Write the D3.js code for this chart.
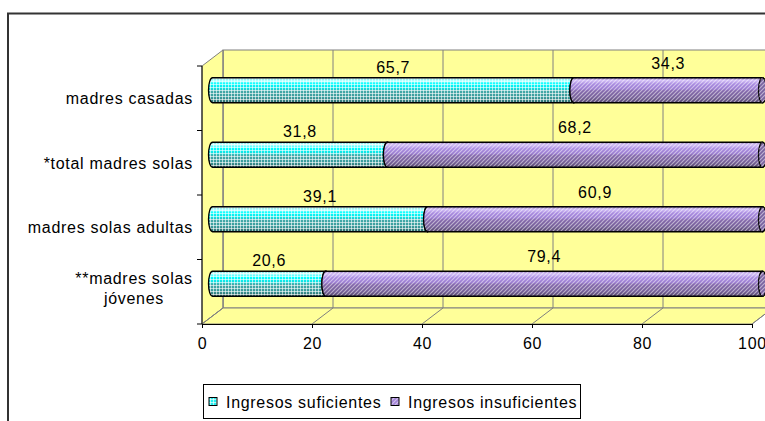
<!DOCTYPE html>
<html><head><meta charset="utf-8">
<script src="https://cdn.jsdelivr.net/npm/d3@7"></script>
<style>
html,body{margin:0;padding:0;background:#fff;}
svg text{font-family:"Liberation Sans",Arial,sans-serif;font-size:16px;letter-spacing:0.7px;fill:#000;}
</style></head>
<body>
<svg id="chart" width="765" height="421"></svg>
<script>
const categories = ["madres casadas", "*total madres solas", "madres solas adultas", "**madres solas jóvenes"];
const categoryLines = [["madres casadas"], ["*total madres solas"], ["madres solas adultas"], ["**madres solas", "jóvenes"]];
const seriesNames = ["Ingresos suficientes", "Ingresos insuficientes"];
const suficientes = [65.7, 31.8, 39.1, 20.6];
const insuficientes = [34.3, 68.2, 60.9, 79.4];
const xTicks = [0, 20, 40, 60, 80, 100];

const svg = d3.select("#chart");
const defs = svg.append("defs");

const front = {left: 202, right: 752, top: 66, bottom: 324};
const DX = 21, DY = -16;
const x = d3.scaleLinear().domain([0, 100]).range([front.left, front.right]);
const y = d3.scaleBand().domain(categories).range([front.top, front.bottom]).paddingInner(0).paddingOuter(0);
const barH = 25, rx = 4;

function vgrad(id, stops) {
  const g = defs.append("linearGradient").attr("id", id).attr("x1", 0).attr("y1", 0).attr("x2", 0).attr("y2", 1);
  stops.forEach(s => g.append("stop").attr("offset", s[0]).attr("stop-color", s[1]));
}
vgrad("gCyan", [["0%", "#6cc"], ["10%", "#bff"], ["25%", "#0ff"], ["45%", "#1dd"], ["52%", "#4aa"], ["80%", "#3a9a9a"], ["100%", "#2c6666"]]);
vgrad("gPurp", [["0%", "#8a70b0"], ["10%", "#d4c0f8"], ["25%", "#a88ae0"], ["45%", "#9a7cd0"], ["52%", "#8468ac"], ["80%", "#735d96"], ["100%", "#4e3f68"]]);

const pg = defs.append("pattern").attr("id", "pGrid").attr("patternUnits", "userSpaceOnUse").attr("width", 3).attr("height", 3);
pg.append("rect").attr("x", 0).attr("y", 0).attr("width", 1).attr("height", 3).attr("fill", "#fff").attr("opacity", 0.6);
pg.append("rect").attr("x", 0).attr("y", 0).attr("width", 3).attr("height", 1).attr("fill", "#fff").attr("opacity", 0.6);

const ps = defs.append("pattern").attr("id", "pStripe").attr("patternUnits", "userSpaceOnUse").attr("width", 4).attr("height", 4);
ps.append("path").attr("d", "M-1,1 L1,-1 M0,4 L4,0 M3,5 L5,3").attr("stroke", "#fff").attr("stroke-width", 1.2).attr("opacity", 0.5);

const fills = [{grad: "url(#gCyan)", pat: "url(#pGrid)", cap: "#3aa"}, {grad: "url(#gPurp)", pat: "url(#pStripe)", cap: "#7a62a0"}];

svg.append("rect").attr("x", 8).attr("y", 13.5).attr("width", 800).attr("height", 450)
  .attr("fill", "none").attr("stroke", "#333").attr("stroke-width", 2);

const wallFill = "#ffff99", wallStroke = "#808080";
const bx0 = front.left + DX, bx1 = front.right + DX, by0 = front.top + DY, by1 = front.bottom + DY;
svg.append("rect").attr("x", bx0).attr("y", by0).attr("width", bx1 - bx0).attr("height", by1 - by0)
  .attr("fill", wallFill).attr("stroke", wallStroke);
svg.append("path").attr("d", `M${front.left},${front.top} L${bx0},${by0} L${bx0},${by1} L${front.left},${front.bottom} Z`)
  .attr("fill", wallFill).attr("stroke", wallStroke);
svg.append("path").attr("d", `M${front.left},${front.bottom} L${bx0},${by1} L${bx1},${by1} L${front.right},${front.bottom} Z`)
  .attr("fill", wallFill).attr("stroke", wallStroke);
xTicks.forEach(t => {
  const xb = x(t) + DX;
  svg.append("line").attr("x1", xb).attr("x2", xb).attr("y1", by0).attr("y2", by1).attr("stroke", wallStroke);
  svg.append("line").attr("x1", x(t)).attr("x2", xb).attr("y1", front.bottom).attr("y2", by1).attr("stroke", wallStroke);
});

svg.append("line").attr("x1", front.left).attr("x2", front.left).attr("y1", front.top).attr("y2", front.bottom).attr("stroke", "#000");
const bounds = categories.map(c => y(c)).concat([front.bottom]);
bounds.forEach(b => svg.append("line").attr("x1", front.left - 5).attr("x2", front.left).attr("y1", b).attr("y2", b).attr("stroke", "#000"));

const xAxis = svg.append("g").attr("transform", `translate(0,${front.bottom})`)
  .call(d3.axisBottom(x).tickValues(xTicks).tickSize(4).tickPadding(10).tickFormat(d3.format("d")));
xAxis.select(".domain").attr("stroke", "#000");
xAxis.selectAll(".tick line").attr("stroke", "#000");
xAxis.selectAll("text").attr("font-family", null).attr("font-size", null).attr("dy", "0.71em");

categories.forEach((c, i) => {
  const cy = y(c) + y.bandwidth() / 2;
  const lines = categoryLines[i];
  if (lines.length === 1) {
    svg.append("text").attr("x", 193).attr("y", cy + 6).attr("text-anchor", "end").text(lines[0]);
  } else {
    lines.forEach((l, j) => svg.append("text").attr("x", 134).attr("y", cy - 8 + j * 20).attr("text-anchor", "middle").text(l));
  }
});

const series = [suficientes, insuficientes];
categories.forEach((c, i) => {
  const cy = y(c) + y.bandwidth() / 2 + DY / 2;
  const top = cy - barH / 2, bot = cy + barH / 2, ry = barH / 2;
  let cum = 0;
  series.forEach((s, k) => {
    const v = s[i];
    const xa = x(cum) + DX / 2, xb = x(cum + v) + DX / 2;
    cum += v;
    const body = `M${xa},${top} L${xb},${top} A${rx},${ry} 0 0 1 ${xb},${bot} L${xa},${bot} A${rx},${ry} 0 0 1 ${xa},${top} Z`;
    const g = svg.append("g");
    g.append("path").attr("d", body).attr("fill", fills[k].grad);
    g.append("path").attr("d", body).attr("fill", fills[k].pat);
    g.append("path").attr("d", body).attr("fill", "none").attr("stroke", "#000").attr("stroke-width", 1.3);
    g.append("ellipse").attr("cx", xb).attr("cy", cy).attr("rx", rx).attr("ry", ry).attr("fill", fills[k].cap).attr("stroke", "#000").attr("stroke-width", 1.3);
    g.append("ellipse").attr("cx", xb).attr("cy", cy).attr("rx", rx).attr("ry", ry).attr("fill", fills[k].pat);
    svg.append("text").attr("x", (xa + xb) / 2).attr("y", top - (k === 0 ? 5 : 9)).attr("text-anchor", "middle")
      .text(d3.format(".1f")(v).replace(".", ","));
  });
});

const lg = svg.append("g");
lg.append("rect").attr("x", 203.5).attr("y", 384.5).attr("width", 377).attr("height", 34).attr("fill", "#fff").attr("stroke", "#000");
const legX = [209, 391];
seriesNames.forEach((n, k) => {
  const sw = lg.append("g");
  sw.append("rect").attr("x", legX[k]).attr("y", 397.5).attr("width", 8).attr("height", 8).attr("fill", k === 0 ? "#2ee" : "#a484d8");
  sw.append("rect").attr("x", legX[k]).attr("y", 397.5).attr("width", 8).attr("height", 8).attr("fill", fills[k].pat);
  sw.append("rect").attr("x", legX[k]).attr("y", 397.5).attr("width", 8).attr("height", 8).attr("fill", "none").attr("stroke", "#000");
  lg.append("text").attr("x", legX[k] + 17).attr("y", 408).text(n);
});
</script>
</body></html>
